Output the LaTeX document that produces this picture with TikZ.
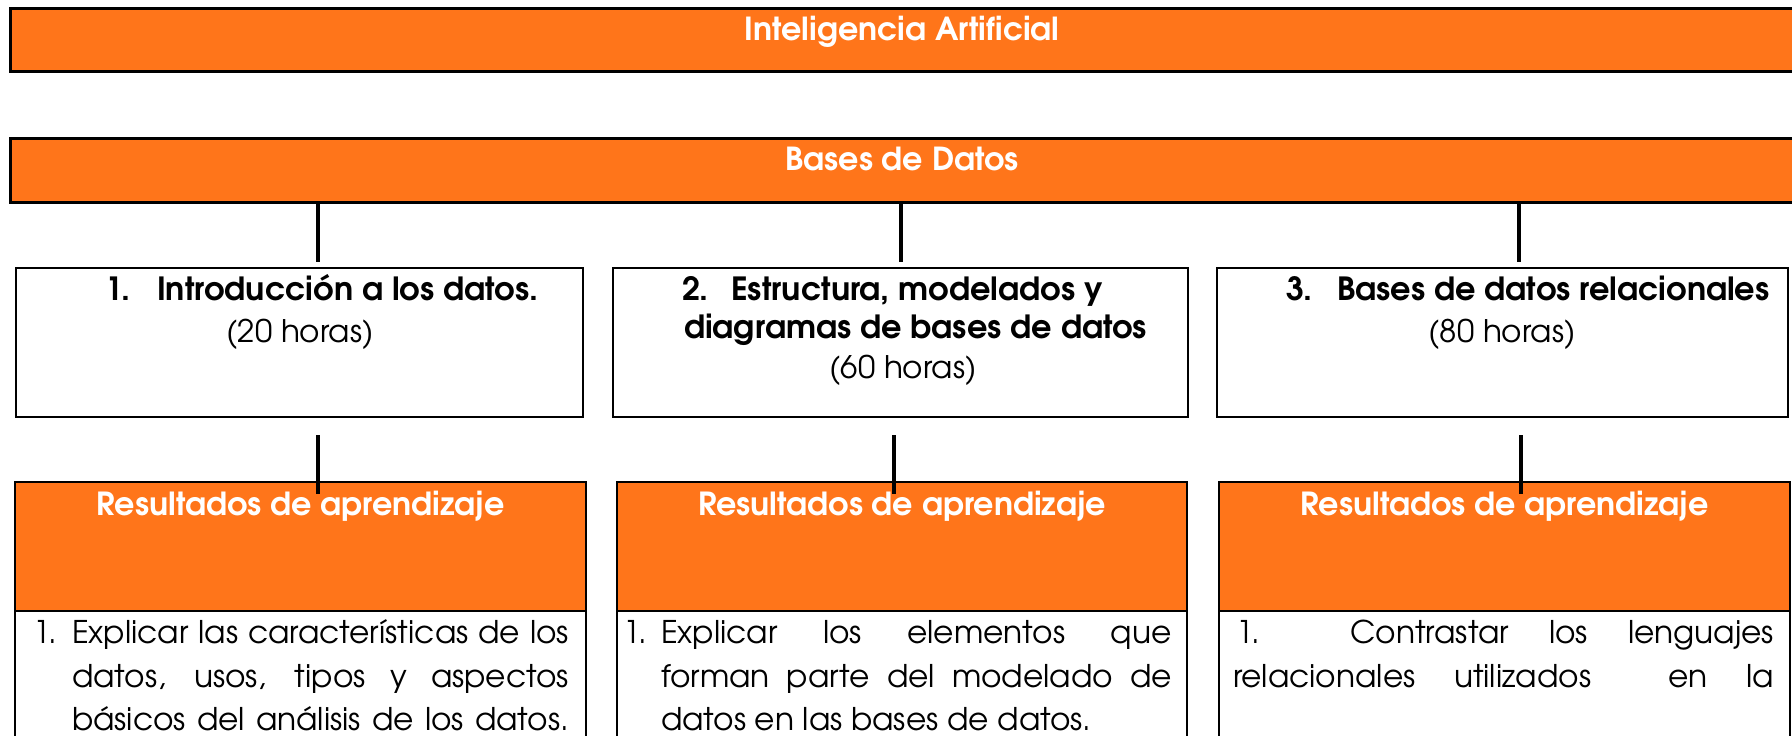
\documentclass[tikz,border=0pt]{standalone}
\usepackage{fontspec}
\setmainfont{TeX Gyre Adventor}
\definecolor{org}{RGB}{255,117,26}
\newlength\fitlen
\newcommand\calcsize[3]{\settowidth\fitlen{\fontsize{10pt}{12pt}\selectfont #2}\pgfmathsetmacro#1{10*#3/\fitlen}}
\newcommand\fBan{\bfseries\fontsize{\sBan}{\sBan}\selectfont}
\newcommand\fTit{\bfseries\fontsize{\sTit}{\sTit}\selectfont}
\newcommand\fRes{\bfseries\fontsize{\sRes}{\sRes}\selectfont}
\newcommand\fBody{\fontsize{\sBody}{\sBody}\selectfont}
\newcommand\fHor{\fontsize{\sHor}{\sHor}\selectfont}
\AtBeginDocument{\normalfont
\calcsize{\sBan}{\bfseries Inteligencia Artificial}{157.5}%
\calcsize{\sTit}{\bfseries diagramas de bases de datos}{231.5}%
\calcsize{\sRes}{\bfseries Resultados de aprendizaje}{204}%
\calcsize{\sBody}{Explicar las características de los}{246}%
\calcsize{\sHor}{(60 horas)}{73.5}}
\tikzset{
  banner/.style={draw=black, line width=1.5pt, fill=org, anchor=north west, inner sep=0pt, outer sep=0pt},
  box/.style={draw=black, line width=1.25pt, fill=white, anchor=north west, inner sep=0pt, outer sep=0pt},
  hbox/.style={box, fill=org},
  conn/.style={draw=black, line width=2pt},
  txt/.style={inner sep=0pt, outer sep=0pt, text=black},
  wtxt/.style={txt, text=white},
}
\begin{document}
\begin{tikzpicture}[x=0.5pt, y=-0.5pt]
\useasboundingbox (0,0) rectangle (1792,735);
% banners
\node[banner, minimum width=895pt, minimum height=31.5pt] (ban1) at (10,8) {};
\node[banner, minimum width=895pt, minimum height=32pt] (ban2) at (10,138) {};
\node[wtxt, anchor=base] (tIA) at (902,40) {\fBan Inteligencia Artificial};
\node[wtxt, anchor=base] (tBD) at (902,170) {\fBan Bases de Datos};
% unit boxes
\node[box, minimum width=283.5pt, minimum height=74.5pt] (b1) at (16,268) {};
\node[box, minimum width=287.5pt, minimum height=74.5pt] (b2) at (613,268) {};
\node[box, minimum width=285.5pt, minimum height=74.5pt] (b3) at (1217,268) {};
% result boxes
\node[box, minimum width=285.5pt, minimum height=74.5pt] (r1b) at (15,611) {};
\node[box, minimum width=285pt, minimum height=74.5pt] (r2b) at (617,611) {};
\node[box, minimum width=285.5pt, minimum height=74.5pt] (r3b) at (1219,611) {};
\node[hbox, minimum width=285.5pt, minimum height=64.5pt] (r1h) at (15,482) {};
\node[hbox, minimum width=285pt, minimum height=64.5pt] (r2h) at (617,482) {};
\node[hbox, minimum width=285.5pt, minimum height=64.5pt] (r3h) at (1219,482) {};
% connectors
\coordinate (k1) at (318,262);
\coordinate (k2) at (901,262);
\coordinate (k3) at (1519,262);
\draw[conn] (ban2.south -| k1) -- (k1);
\draw[conn] (ban2.south -| k2) -- (k2);
\draw[conn] (ban2.south -| k3) -- (k3);
\coordinate (m1a) at (318,435); \coordinate (m1b) at (318,494);
\coordinate (m2a) at (894,435); \coordinate (m2b) at (894,494);
\coordinate (m3a) at (1521,435); \coordinate (m3b) at (1521,494);
\draw[conn] (m1a) -- (m1b);
\draw[conn] (m2a) -- (m2b);
\draw[conn] (m3a) -- (m3b);
% unit titles
\node[txt, anchor=base west] (n1) at (105,300) {\fTit 1.};
\node[txt, anchor=base west] (h1) at (157,300) {\fTit Introducción a los datos.};
\node[txt, anchor=base] (hr1) at (300,342) {\fHor (20 horas)};
\node[txt, anchor=base west] (n2) at (682,300) {\fTit 2.};
\node[txt, anchor=base west] (h2a) at (731,300) {\fTit Estructura, modelados y};
\node[txt, anchor=base west] (h2b) at (684,338) {\fTit diagramas de bases de datos};
\node[txt, anchor=base] (hr2) at (903,378) {\fHor (60 horas)};
\node[txt, anchor=base west] (n3) at (1286,300) {\fTit 3.};
\node[txt, anchor=base west] (h3) at (1337,300) {\fTit Bases de datos relacionales};
\node[txt, anchor=base] (hr3) at (1502,342) {\fHor (80 horas)};
% result headers
\node[wtxt, anchor=base] (rt1) at (300.5,515) {\fRes Resultados de aprendizaje};
\node[wtxt, anchor=base] (rt2) at (902,515) {\fRes Resultados de aprendizaje};
\node[wtxt, anchor=base] (rt3) at (1504.5,515) {\fRes Resultados de aprendizaje};
% result bodies
\node[txt, anchor=base west] (p1n) at (33,643) {\fBody 1.};
\node[txt, anchor=base west] (p1a) at (72,643) {\fBody\makebox[248.5pt][s]{Explicar las características de los}};
\node[txt, anchor=base west] (p1b) at (72,687) {\fBody\makebox[248.5pt][s]{datos, usos, tipos y aspectos}};
\node[txt, anchor=base west] (p1c) at (72,730) {\fBody\makebox[248.5pt][s]{básicos del análisis de los datos.}};
\node[txt, anchor=base west] (p2n) at (623,643) {\fBody 1.};
\node[txt, anchor=base west] (p2a) at (661,643) {\fBody\makebox[255.5pt][s]{Explicar los elementos que}};
\node[txt, anchor=base west] (p2b) at (661,687) {\fBody\makebox[255.5pt][s]{forman parte del modelado de}};
\node[txt, anchor=base west] (p2c) at (661,730) {\fBody datos en las bases de datos.};
\node[txt, anchor=base west] (p3a) at (1236,643) {\fBody\makebox[269pt][s]{1.\hspace{-8pt} Contrastar los lenguajes}};
\node[txt, anchor=base west] (p3b) at (1233,687) {\fBody\makebox[270.5pt][s]{relacionales utilizados\ \ en la}};
\end{tikzpicture}
\end{document}
